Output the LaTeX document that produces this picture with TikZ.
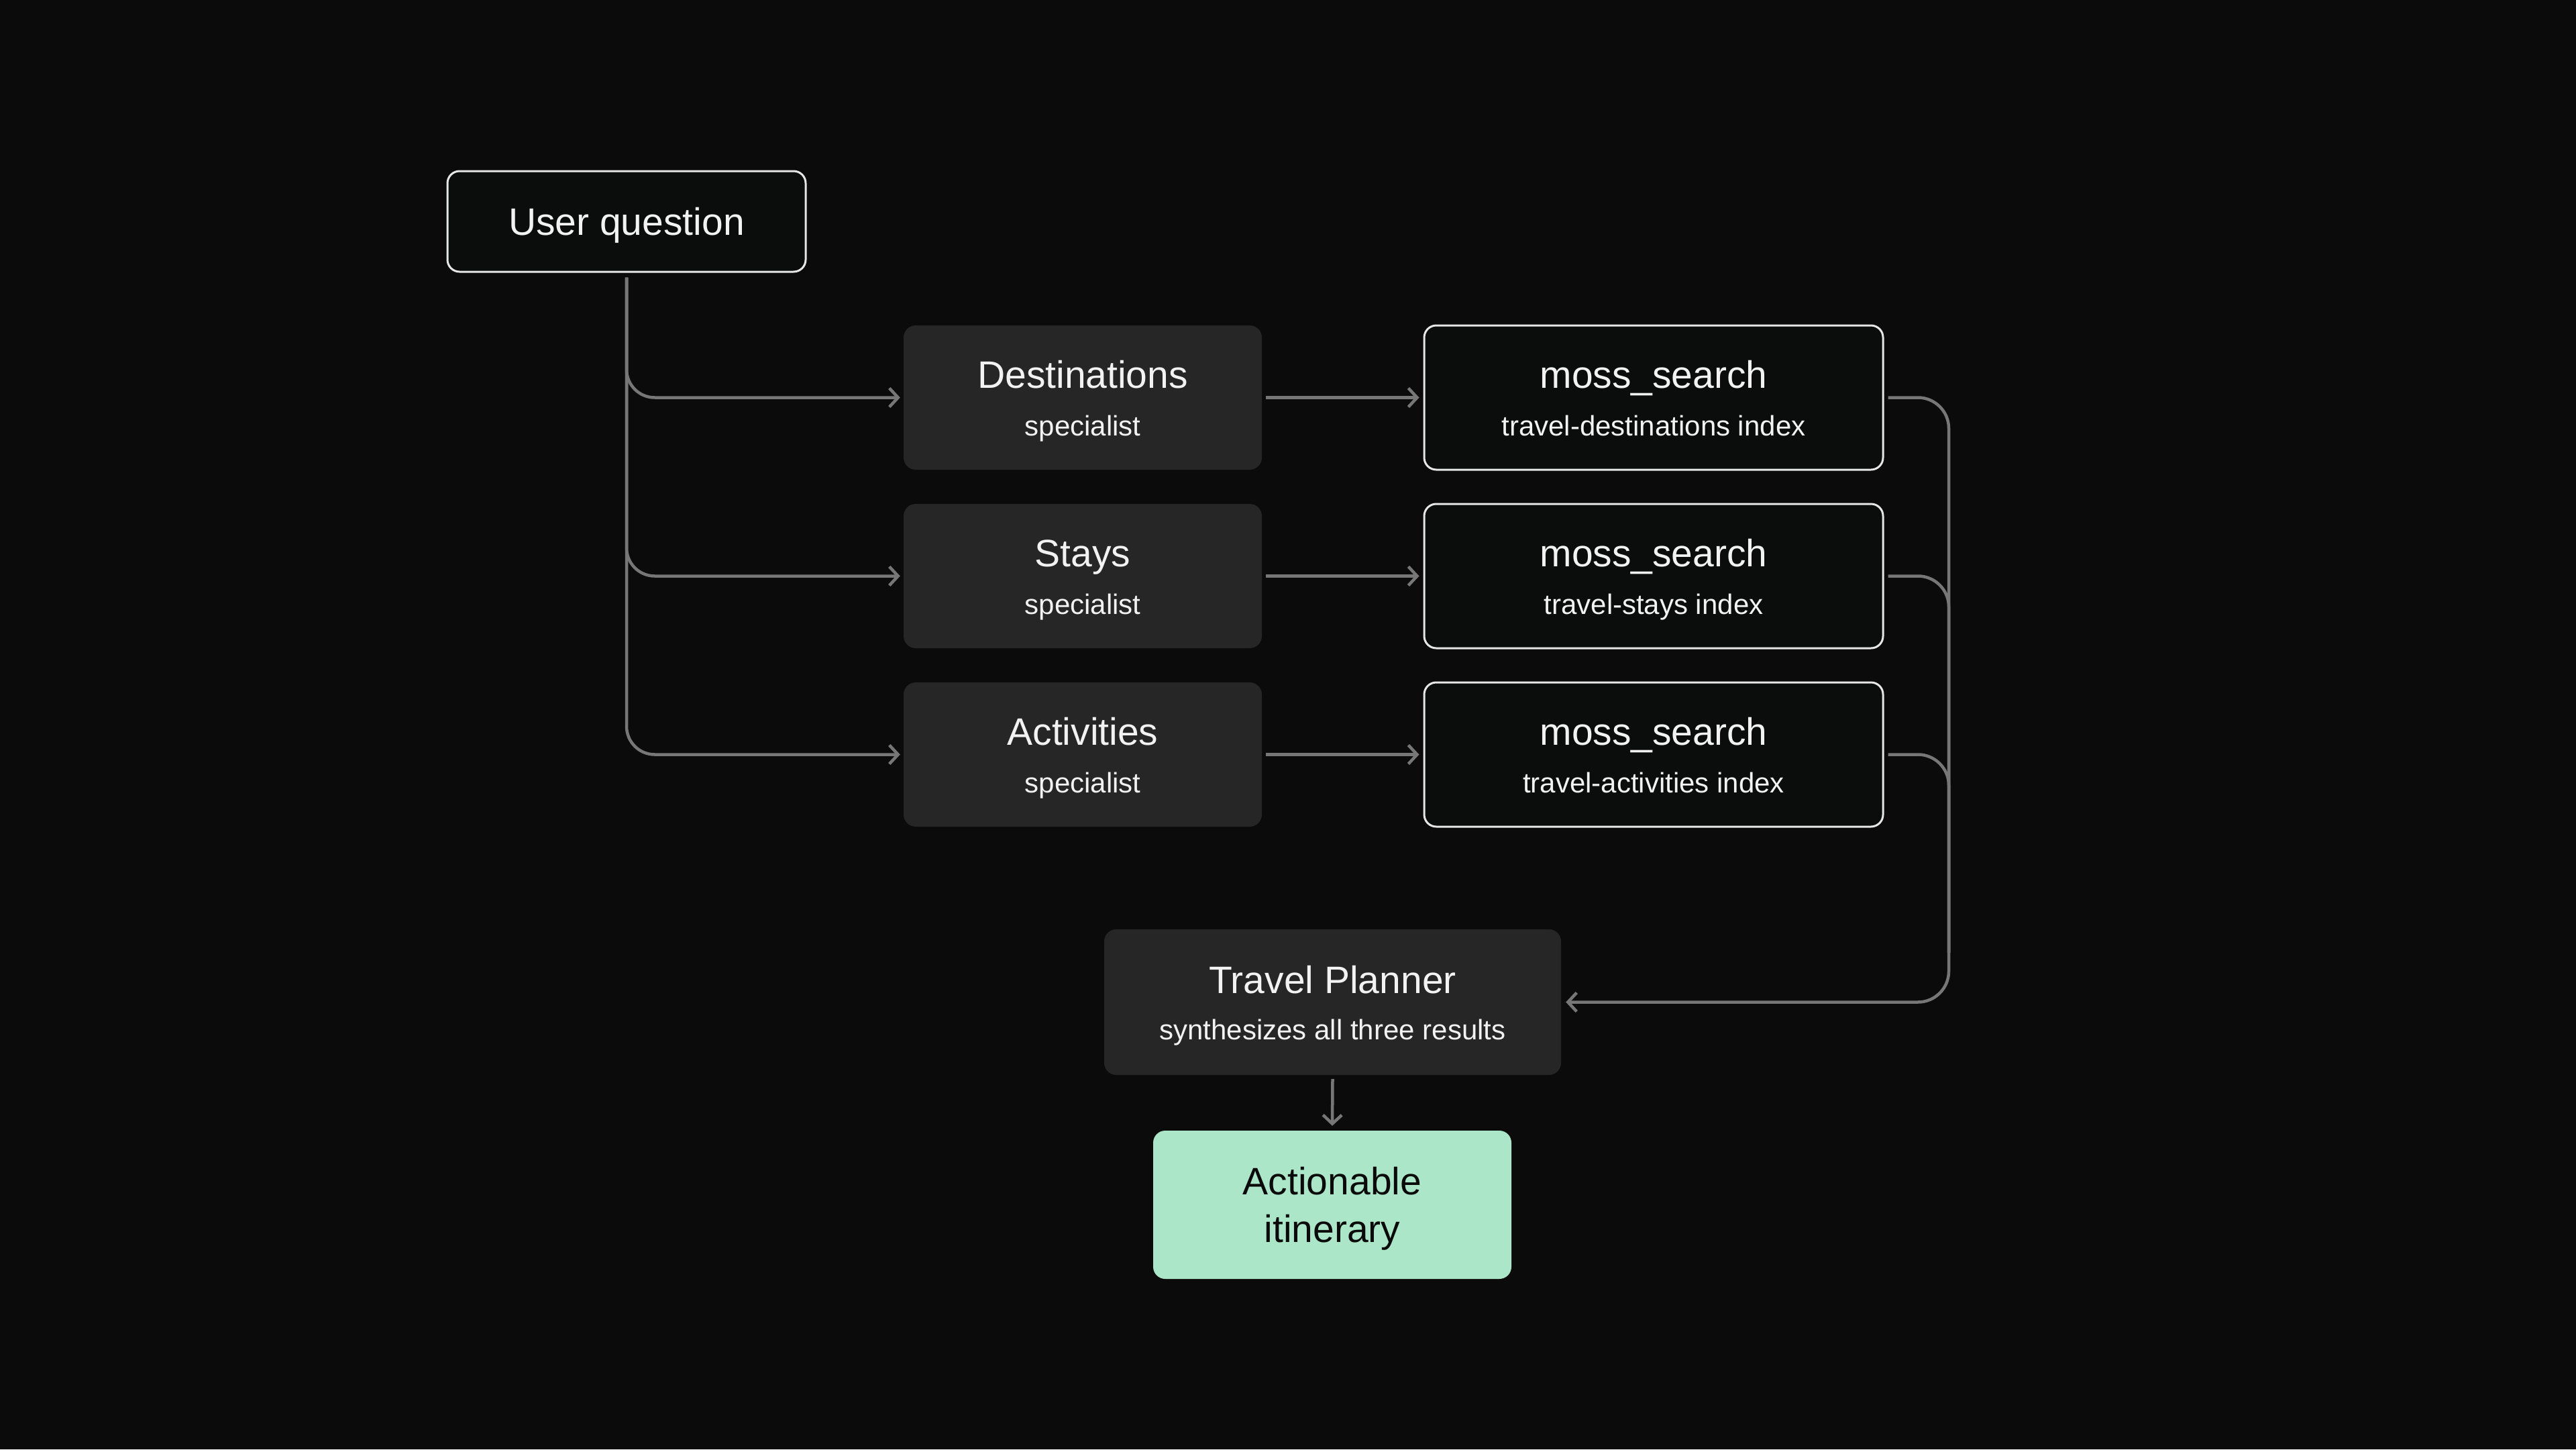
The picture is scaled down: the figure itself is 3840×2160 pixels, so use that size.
\documentclass[tikz,border=0pt]{standalone}
\usepackage{fontspec}
\setmainfont{Liberation Sans}
\usetikzlibrary{arrows.meta}
\definecolor{bgc}{HTML}{0B0B0B}
\definecolor{darkbox}{HTML}{262626}
\definecolor{outbox}{HTML}{0A0D0B}
\definecolor{outline}{HTML}{E6E6E6}
\definecolor{conn}{HTML}{777777}
\definecolor{mint}{HTML}{ACE6C8}
\definecolor{txt}{HTML}{F2F2F2}
\definecolor{darktxt}{HTML}{0A0A0A}
\tikzset{
  solidbox/.style={draw=none, fill=darkbox, rounded corners=18pt, inner sep=0pt, minimum width=534pt, minimum height=215pt},
  linebox/.style={draw=outline, line width=3pt, fill=outbox, rounded corners=18pt, inner sep=0pt, minimum width=684pt, minimum height=215pt},
  greenbox/.style={draw=none, fill=mint, rounded corners=18pt, inner sep=0pt, minimum width=534pt, minimum height=221pt},
  title/.style={anchor=base, inner sep=0pt, text=txt, font=\fontsize{57}{68}\selectfont},
  sub/.style={anchor=base, inner sep=0pt, text=txt, font=\fontsize{42}{50}\selectfont},
  link/.style={draw=conn, line width=4.5pt, -{Straight Barb[length=13pt,width=28pt,line width=4.5pt]}},
  plain/.style={draw=conn, line width=4.5pt},
}
\begin{document}
\begin{tikzpicture}[x=1pt,y=-1pt]
\useasboundingbox (0,0) rectangle (3840,2160);
\fill[bgc] (0,0) rectangle (3840,2160);

% user question
\node[linebox, minimum width=534pt, minimum height=150pt] (uq) at (934,330) {};
\node[title] (uqt) at (934,350) {User question};

% specialists
\node[solidbox] (ds) at (1614,592.5) {};
\node[title] (dst) at (1614,578) {Destinations};
\node[sub] (dss) at (1614,649) {specialist};

\node[solidbox] (st) at (1614,858.5) {};
\node[title] (stt) at (1614,844) {Stays};
\node[sub] (sts) at (1614,915) {specialist};

\node[solidbox] (ac) at (1614,1124.5) {};
\node[title] (act) at (1614,1110) {Activities};
\node[sub] (acs) at (1614,1181) {specialist};

% moss boxes
\node[linebox] (m1) at (2465,592.5) {};
\node[title] (m1t) at (2465,578) {moss\_search};
\node[sub] (m1s) at (2465,649) {travel-destinations index};

\node[linebox] (m2) at (2465,858.5) {};
\node[title] (m2t) at (2465,844) {moss\_search};
\node[sub] (m2s) at (2465,915) {travel-stays index};

\node[linebox] (m3) at (2465,1124.5) {};
\node[title] (m3t) at (2465,1110) {moss\_search};
\node[sub] (m3s) at (2465,1181) {travel-activities index};

% planner
\node[solidbox, minimum width=681pt, minimum height=217pt] (tp) at (1986.5,1493.5) {};
\node[title] (tpt) at (1986.5,1480) {Travel Planner};
\node[sub] (tps) at (1986.5,1549) {synthesizes all three results};

% itinerary
\node[greenbox] (it) at (1986,1795.5) {};
\node[title, text=darktxt] (it1) at (1986,1780) {Actionable};
\node[title, text=darktxt] (it2) at (1986,1851) {itinerary};

% connectors from user question
\coordinate (uqs) at ([yshift=-7pt]uq.south);
\draw[link, rounded corners=42pt] (uqs) |- ([xshift=-5pt]ds.west);
\draw[link, rounded corners=42pt] (uqs) |- ([xshift=-5pt]st.west);
\draw[link, rounded corners=42pt] (uqs) |- ([xshift=-5pt]ac.west);

% specialist to moss
\draw[link] ([xshift=6pt]ds.east) -- ([xshift=-6pt]m1.west);
\draw[link] ([xshift=6pt]st.east) -- ([xshift=-6pt]m2.west);
\draw[link] ([xshift=6pt]ac.east) -- ([xshift=-6pt]m3.west);

% bracket to planner
\coordinate (rb) at (2905,1493.5);
\coordinate (rbj) at (2905,1420);
\draw[link, rounded corners=46pt] ([xshift=6pt]m1.east) -| (rb) -- ([xshift=7pt]tp.east);
\draw[plain, rounded corners=46pt] ([xshift=6pt]m2.east) -| (rbj);
\draw[plain, rounded corners=46pt] ([xshift=6pt]m3.east) -| (rbj);

% planner to itinerary
\draw[link] ([yshift=-6pt]tp.south) -- ([yshift=7pt]it.north);
\end{tikzpicture}
\end{document}
